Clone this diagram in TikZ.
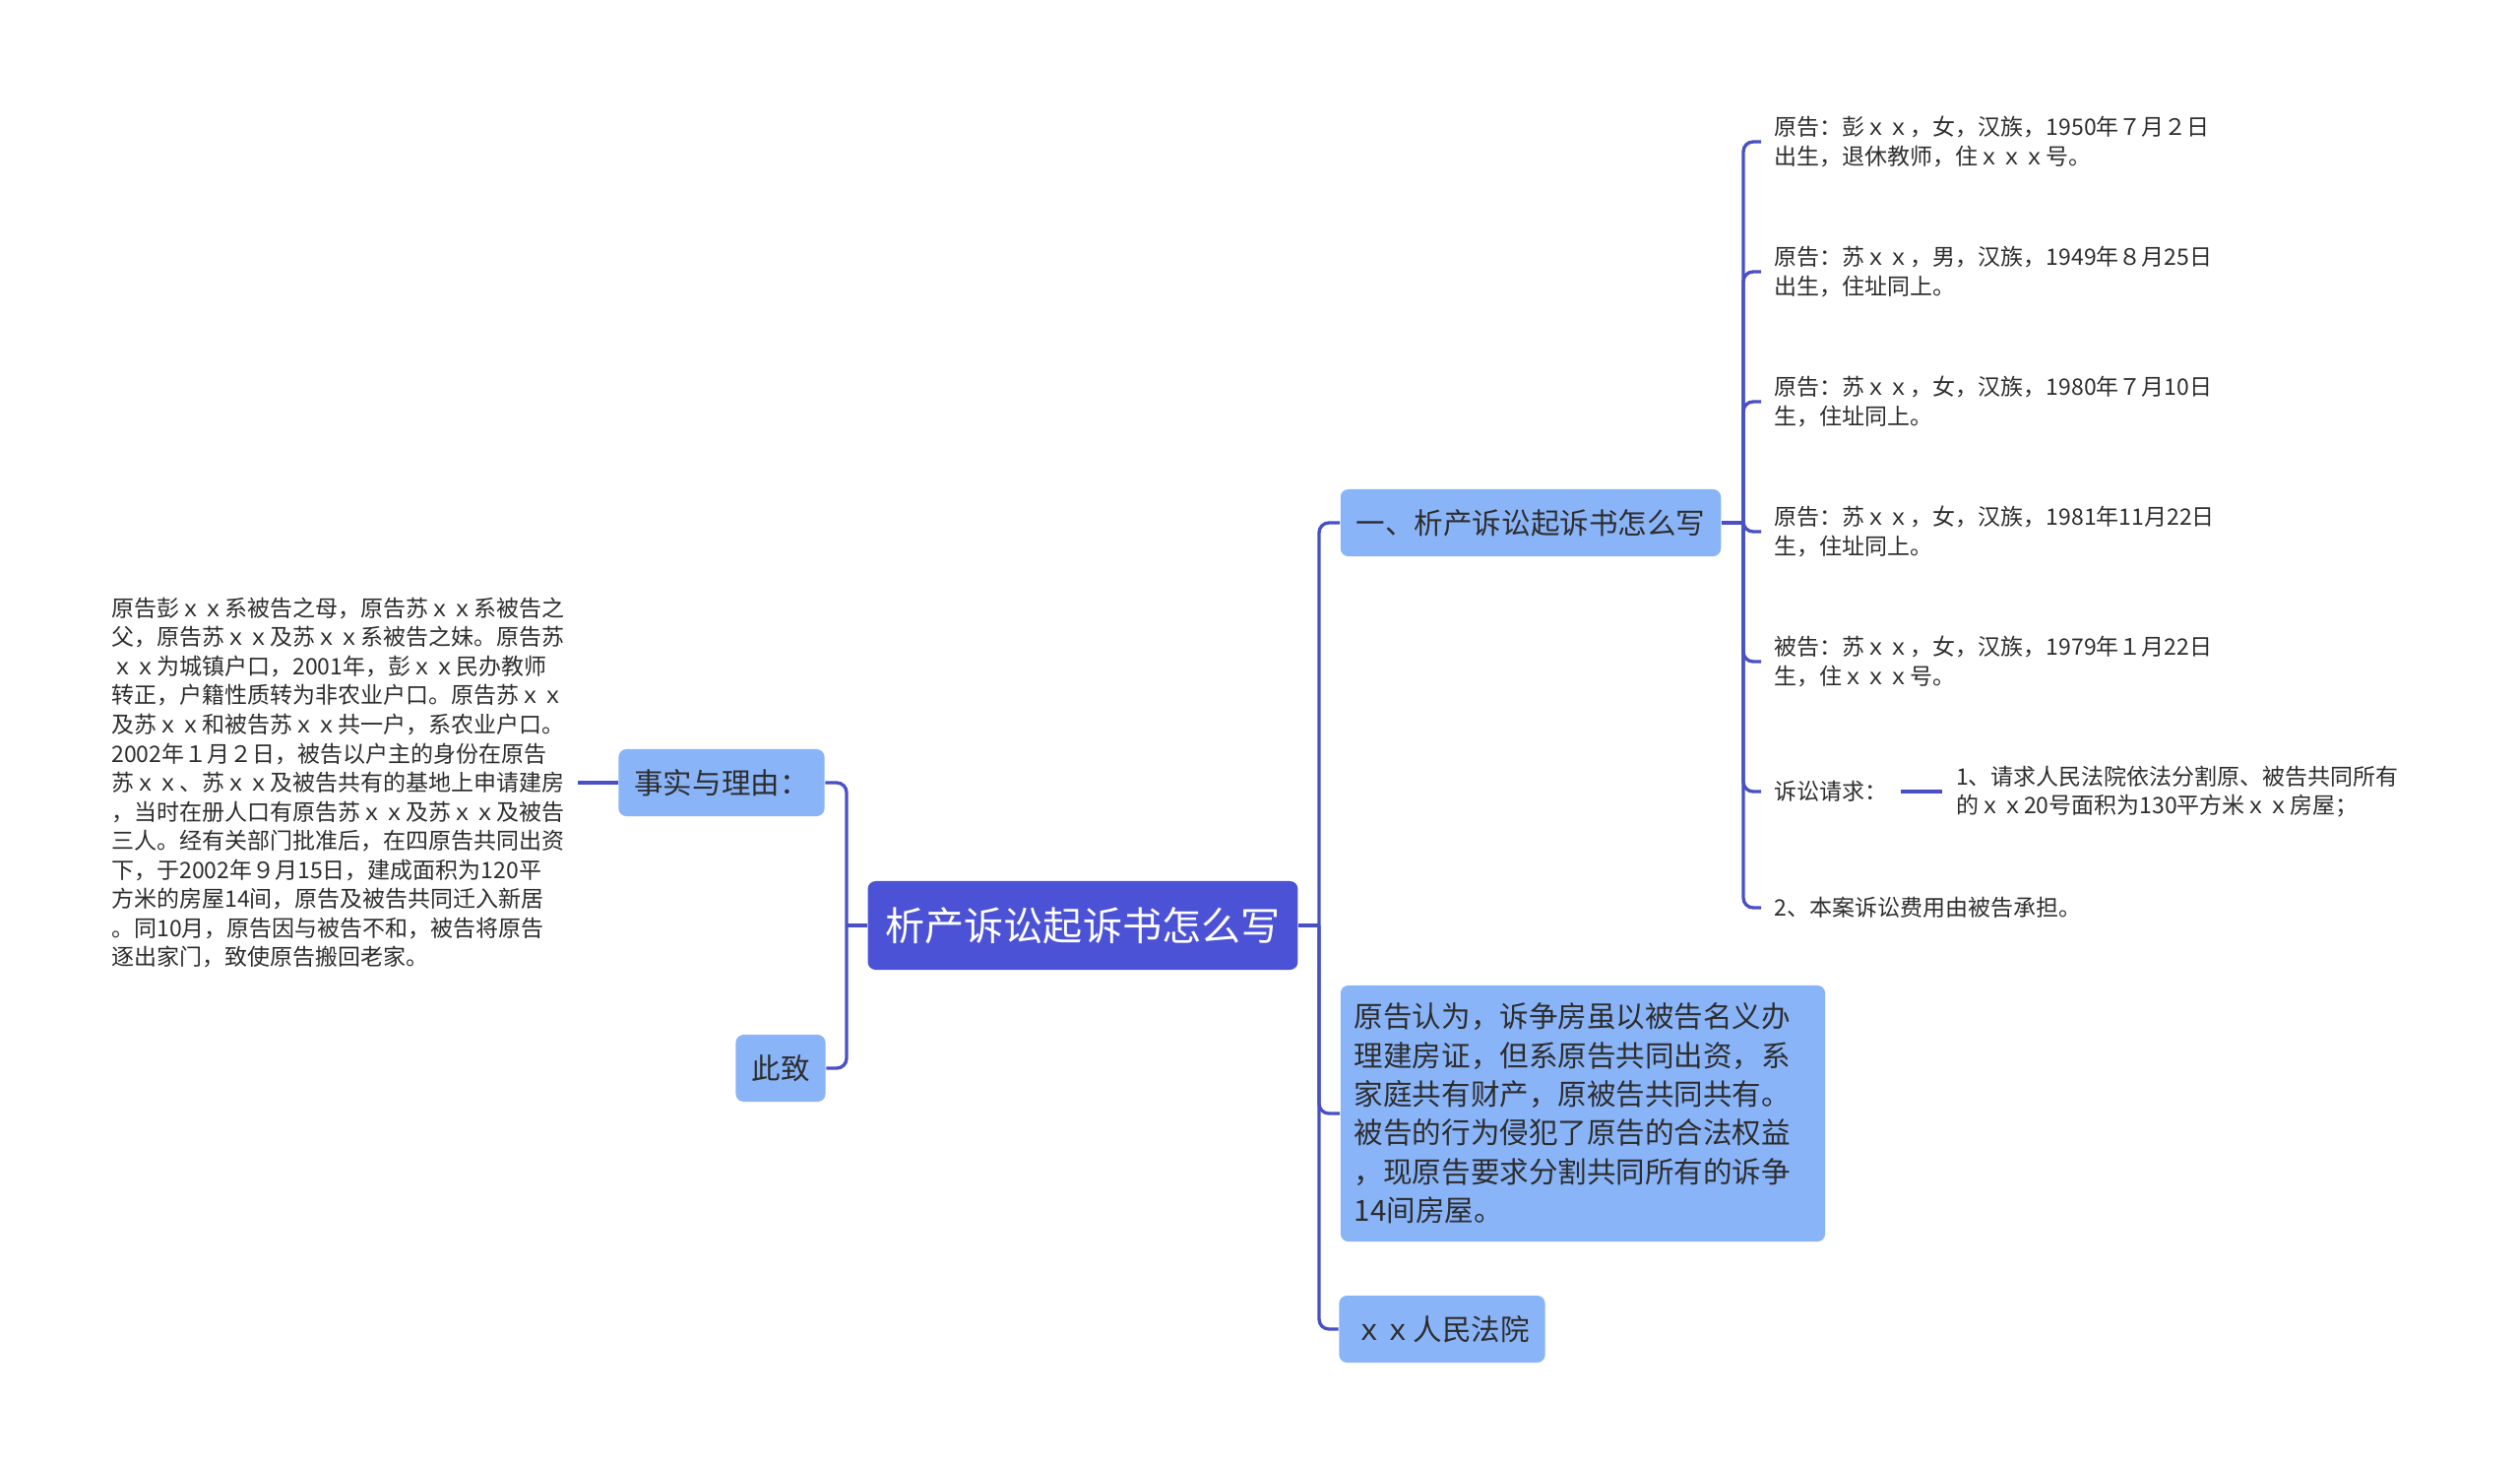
\documentclass[tikz,border=0pt]{standalone}
\usepackage{fontspec}
\setmainfont{Noto Sans CJK SC}
\usetikzlibrary{positioning}
\definecolor{rootblue}{RGB}{75,82,214}
\definecolor{boxblue}{RGB}{138,180,248}
\definecolor{linkblue}{RGB}{72,80,196}
\definecolor{inkgray}{RGB}{45,45,45}

\begin{document}
\begin{tikzpicture}[
    x=0.01cm, y=-0.01cm,
    root/.style={fill=rootblue, rounded corners=0.08cm, text=white, inner xsep=0.18cm,
                 minimum height=0.9cm, font=\fontsize{11.4}{13}\selectfont},
    box/.style={fill=boxblue, rounded corners=0.08cm, text=inkgray, inner xsep=0.16cm,
                minimum height=0.68cm, font=\fontsize{8.4}{11.2}\selectfont},
    leaf/.style={text=inkgray, align=left, inner xsep=0.13cm,
                 font=\fontsize{6.54}{8.39}\selectfont},
    link/.style={draw=linkblue, line width=0.95pt, rounded corners=0.1cm},
]
\useasboundingbox (0,0) rectangle (2560,1484);

\node[root] (root) at (1100,940) {析产诉讼起诉书怎么写};

% Left branch
\node[box] (reason) at (733,795) {事实与理由：};
\node[box] (closing) at (793,1085) {此致};
\node[leaf, anchor=east] (facts) at (587,795)
    {原告彭ｘｘ系被告之母，原告苏ｘｘ系被告之\\父，原告苏ｘｘ及苏ｘｘ系被告之妹。原告苏\\ｘｘ为城镇户口，2001年，彭ｘｘ民办教师\\转正，户籍性质转为非农业户口。原告苏ｘｘ\\及苏ｘｘ和被告苏ｘｘ共一户，系农业户口。\\2002年１月２日，被告以户主的身份在原告\\苏ｘｘ、苏ｘｘ及被告共有的基地上申请建房\\，当时在册人口有原告苏ｘｘ及苏ｘｘ及被告\\三人。经有关部门批准后，在四原告共同出资\\下，于2002年９月15日，建成面积为120平\\方米的房屋14间，原告及被告共同迁入新居\\。同10月，原告因与被告不和，被告将原告\\逐出家门，致使原告搬回老家。};

% Right branch
\node[box] (howto) at (1555,531) {一、析产诉讼起诉书怎么写};
\node[box, align=left, text width=4.64cm, inner xsep=0.14cm, inner ysep=0.18cm] (claim) at (1608,1131)
    {原告认为，诉争房虽以被告名义办\\理建房证，但系原告共同出资，系\\家庭共有财产，原被告共同共有。\\被告的行为侵犯了原告的合法权益\\，现原告要求分割共同所有的诉争\\14间房屋。};
\node[box] (court) at (1465,1350) {ｘｘ人民法院};

% Parties and requests
\node[leaf, anchor=west] (p1) at (1789,144) {原告：彭ｘｘ，女，汉族，1950年７月２日\\出生，退休教师，住ｘｘｘ号。};
\node[leaf, anchor=west] (p2) at (1789,276) {原告：苏ｘｘ，男，汉族，1949年８月25日\\出生，住址同上。};
\node[leaf, anchor=west] (p3) at (1789,408) {原告：苏ｘｘ，女，汉族，1980年７月10日\\生，住址同上。};
\node[leaf, anchor=west] (p4) at (1789,540) {原告：苏ｘｘ，女，汉族，1981年11月22日\\生，住址同上。};
\node[leaf, anchor=west] (p5) at (1789,672) {被告：苏ｘｘ，女，汉族，1979年１月22日\\生，住ｘｘｘ号。};
\node[leaf, anchor=west] (req) at (1789,804) {诉讼请求：};
\node[leaf, right=0.42cm of req] (req1) {1、请求人民法院依法分割原、被告共同所有\\的ｘｘ20号面积为130平方米ｘｘ房屋；};
\node[leaf, anchor=west] (req2) at (1789,922) {2、本案诉讼费用由被告承担。};

\coordinate (jl) at (860,940);
\coordinate (jr) at (1340,940);
\coordinate (jh) at (1771,531);

\draw[link] (root.west) -- (jl);
\draw[link] (jl) |- (reason.east);
\draw[link] (jl) |- (closing.east);
\draw[link] (reason.west) -- (facts.east);

\draw[link] (root.east) -- (jr);
\foreach \n in {howto, claim, court}
    \draw[link] (jr) |- (\n.west);
\draw[link] (howto.east) -- (jh);
\foreach \n in {p1, p2, p3, p4, p5, req, req2}
    \draw[link] (jh) |- (\n.west);
\draw[link] (req.east) -- (req1.west);
\end{tikzpicture}
\end{document}
